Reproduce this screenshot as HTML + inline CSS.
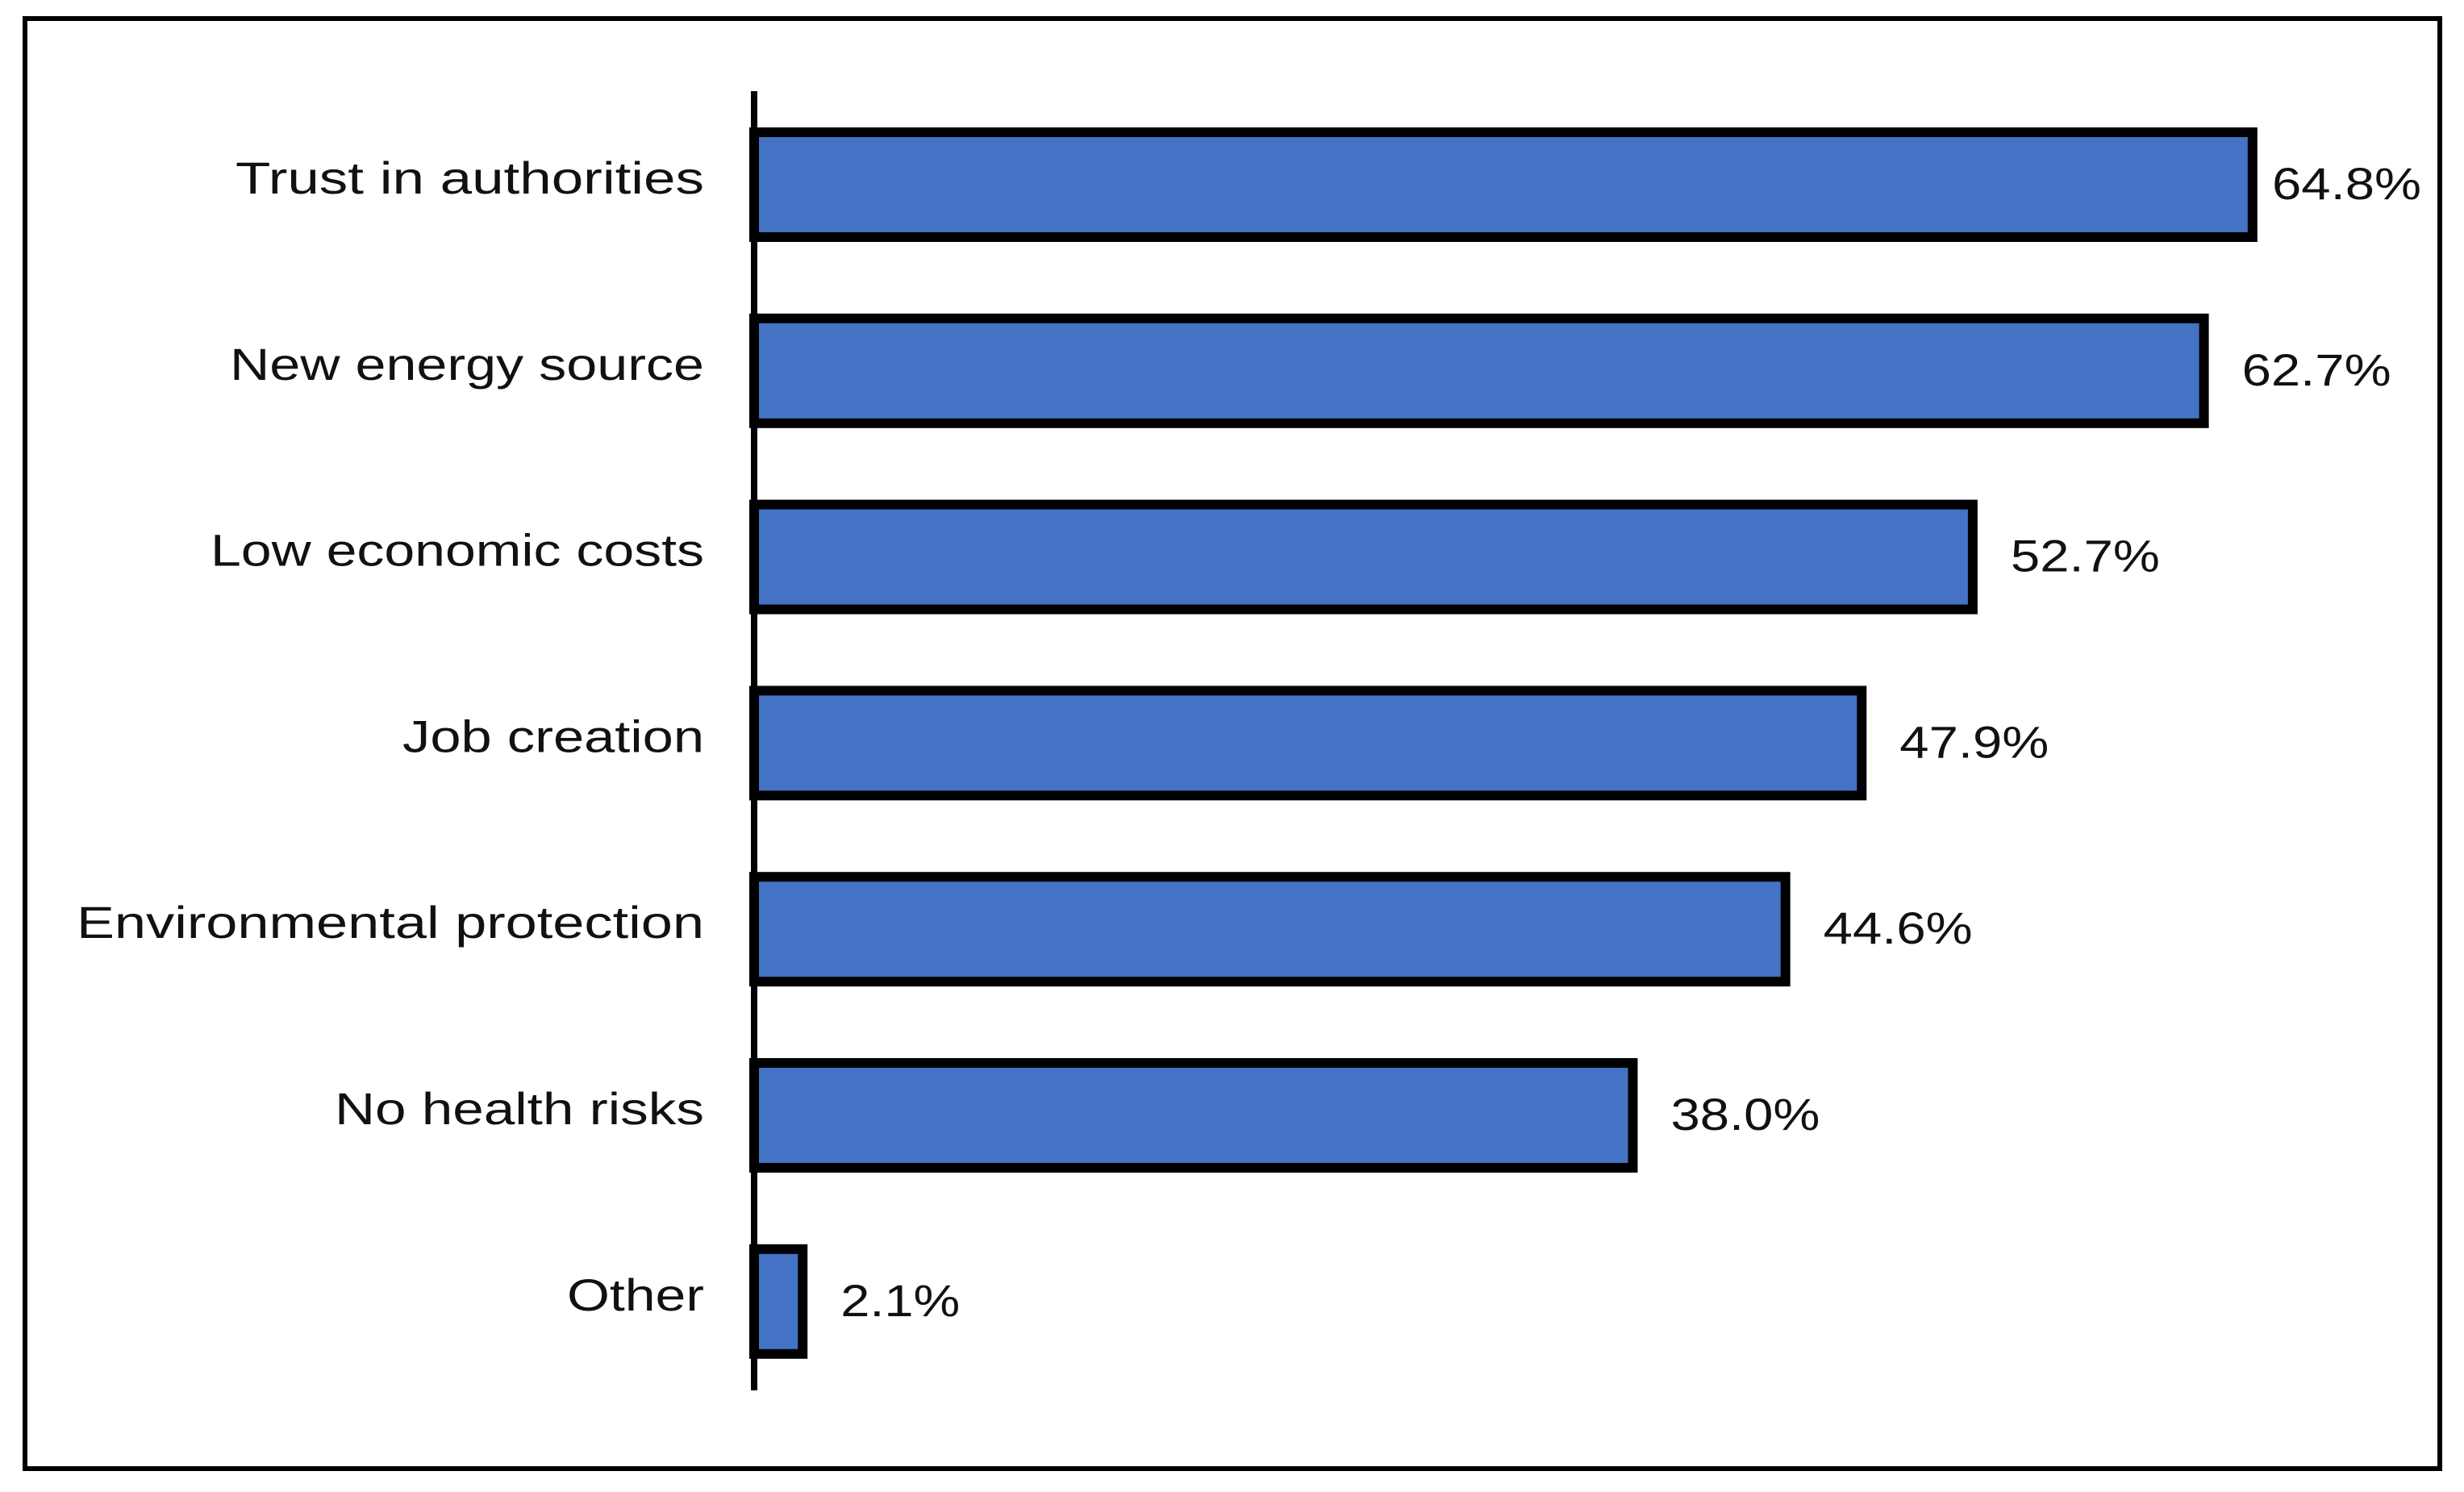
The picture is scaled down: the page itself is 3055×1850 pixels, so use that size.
<!DOCTYPE html>
<html><head><meta charset="utf-8"><style>html,body{margin:0;padding:0;background:#fff}svg{display:block}</style></head>
<body>
<svg id="chart" width="3055" height="1850" xmlns="http://www.w3.org/2000/svg" font-family="Liberation Sans, sans-serif">
<rect x="31" y="23" width="2994" height="1798" fill="#fff" stroke="#000" stroke-width="6"/>
<g id="bars"></g>
<line x1="935" y1="113" x2="935" y2="1724" stroke="#000" stroke-width="8"/>
</svg>
<script>
const categories = ["Trust in authorities","New energy source","Low economic costs","Job creation","Environmental protection","No health risks","Other"];
const values = [64.8, 62.7, 52.7, 47.9, 44.6, 38.0, 2.1];
const valueLabels = ["64.8%","62.7%","52.7%","47.9%","44.6%","38.0%","2.1%"];
const labelWidths = [581, 588, 612, 374, 778, 458, 170];

const x0 = 935, pxPerUnit = 28.67;
const yTop = 229, step = 230.8, barH = 130;
const xScale = v => x0 + v * pxPerUnit;
const yScale = i => yTop + i * step;
const NS = "http://www.w3.org/2000/svg";
const g = document.getElementById("bars");
categories.forEach((c, i) => {
  const cy = yScale(i);
  const r = document.createElementNS(NS, "rect");
  r.setAttribute("x", x0);
  r.setAttribute("y", cy - barH / 2);
  r.setAttribute("width", xScale(values[i]) - x0);
  r.setAttribute("height", barH);
  r.setAttribute("fill", "#4472c4");
  r.setAttribute("stroke", "#000");
  r.setAttribute("stroke-width", "12");
  
  
  g.appendChild(r);

  const t = document.createElementNS(NS, "text");
  t.setAttribute("x", 873);
  t.setAttribute("y", cy + 11);
  t.setAttribute("text-anchor", "end");
  t.setAttribute("font-size", "56");
  t.setAttribute("fill", "#111");
  t.setAttribute("textLength", labelWidths[i]);
  t.setAttribute("lengthAdjust", "spacingAndGlyphs");
  t.textContent = c;
  
  
  g.appendChild(t);

  const w = valueLabels[i].length === 4 ? 148 : 185;
  const v = document.createElementNS(NS, "text");
  v.setAttribute("x", Math.min(xScale(values[i]) + 47, 3002 - w));
  v.setAttribute("y", cy + 18);
  v.setAttribute("font-size", "56");
  v.setAttribute("fill", "#111");
  v.setAttribute("textLength", w);
  v.setAttribute("lengthAdjust", "spacingAndGlyphs");
  v.textContent = valueLabels[i];
  
  
  g.appendChild(v);
});
</script>
</body></html>
